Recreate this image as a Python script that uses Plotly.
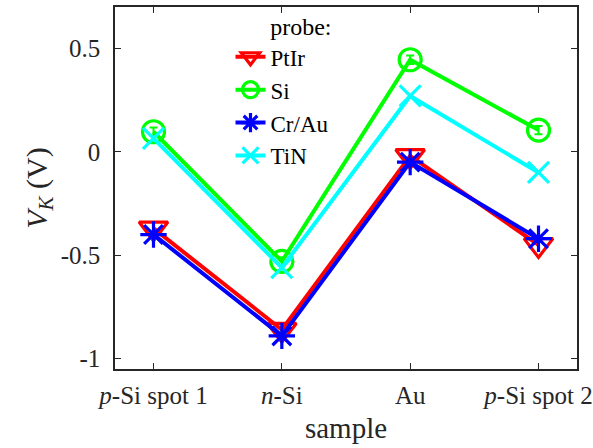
import plotly.graph_objects as go

samples = ["<i>p</i>-Si spot 1", "<i>n</i>-Si", "Au", "<i>p</i>-Si spot 2"]
x_pos = [1, 2, 3, 4]

ptir = [-0.37, -0.86, -0.02, -0.45]
si = [0.097, -0.53, 0.445, 0.105]
crau = [-0.40, -0.89, -0.05, -0.42]
tin = [0.065, -0.56, 0.27, -0.10]
si_err = [0.02, 0.02, 0.02, 0.02]

y_ticks = [-1, -0.5, 0, 0.5]
y_ticklabels = ["-1", "-0.5", "0", "0.5"]

font_family = "'Times New Roman', 'Liberation Serif', serif"

series = [
    ("PtIr", ptir, "#FF0000", "triangle-down-open", 25, None),
    ("Si", si, "#00FF00", "circle-open", 22, si_err),
    ("Cr/Au", crau, "#0000FF", "asterisk-open", 22, None),
    ("TiN", tin, "#00FFFF", "x-thin-open", 21, None),
]

fig = go.Figure()
for name, vals, color, sym, msize, err in series:
    fig.add_trace(go.Scatter(
        x=x_pos, y=vals, name=name, mode="lines+markers",
        line=dict(color=color, width=4),
        marker=dict(symbol=sym, size=msize, color=color, line=dict(color=color, width=3.2)),
        error_y=(dict(type="data", array=err, visible=True, color=color, thickness=2, width=4) if err else None),
    ))

fig.update_layout(
    width=593, height=448,
    margin=dict(l=115, r=16, t=7, b=79, autoexpand=False),
    paper_bgcolor="white", plot_bgcolor="white",
    font=dict(family=font_family, size=25, color="#262626"),
    showlegend=True,
    legend=dict(
        title=dict(text="probe:", side="top right", font=dict(family=font_family, size=24, color="#000000")),
        x=0.25, y=1.008, xanchor="left", yanchor="top",
        bgcolor="rgba(255,255,255,0)", borderwidth=0,
        font=dict(family=font_family, size=23, color="#000000"),
        itemwidth=30, tracegroupgap=0,
    ),
    xaxis=dict(
        range=[0.7, 4.3], tickmode="array", tickvals=x_pos, ticktext=samples,
        ticks="inside", ticklen=6, tickcolor="#262626", mirror="ticks",
        showline=True, linecolor="#262626", linewidth=1.5, showgrid=False, zeroline=False,
        tickfont=dict(family=font_family, size=25, color="#262626"),
        ticklabelstandoff=3, ticklabeloverflow="allow", automargin=False,
        title=dict(text="sample", font=dict(family=font_family, size=29, color="#262626"), standoff=10),
    ),
    yaxis=dict(
        range=[-1.05, 0.7], tickmode="array", tickvals=y_ticks, ticktext=y_ticklabels,
        ticks="inside", ticklen=6, tickcolor="#262626", mirror="ticks",
        showline=True, linecolor="#262626", linewidth=1.5, showgrid=False, zeroline=False,
        tickfont=dict(family=font_family, size=25, color="#262626"),
        ticklabelstandoff=8, automargin=False,
        title=dict(text="<i>V</i><sub><i>K</i></sub> (V)", font=dict(family=font_family, size=30, color="#262626"), standoff=4),
    ),
)

fig.write_html("out.html")
